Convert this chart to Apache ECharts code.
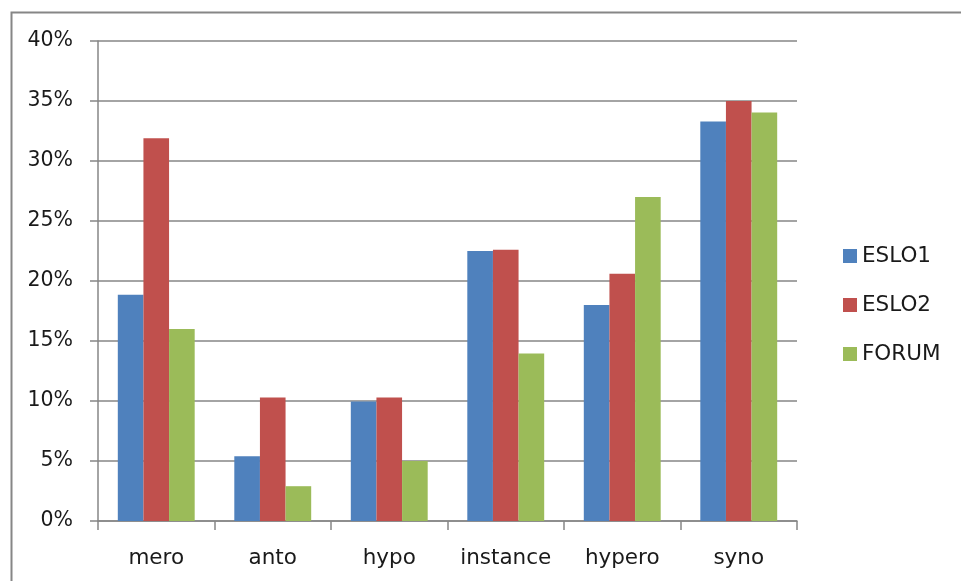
<!DOCTYPE html>
<html><head><meta charset="utf-8">
<script src="https://cdn.jsdelivr.net/npm/echarts@6/dist/echarts.min.js"></script>
<style>html,body{margin:0;padding:0;background:#fff}#c{width:961px;height:581px}</style>
</head><body><div id="c"></div>
<script>
const categories = ['mero','anto','hypo','instance','hypero','syno'];
const esl01 = [18.85, 5.4, 9.95, 22.5, 18.0, 33.3];
const esl02 = [31.9, 10.3, 10.3, 22.6, 20.6, 35.0];
const forum = [16.0, 2.9, 5.0, 13.95, 27.0, 34.05];
const seriesNames = ['ESLO1','ESLO2','FORUM'];
const colors = ['#4F81BD','#C0504D','#9BBB59'];

const chart = echarts.init(document.getElementById('c'));
const font = 'DejaVu Sans';
const gray = '#868686';
chart.setOption({
  animation: false,
  backgroundColor: '#fff',
  color: colors,
  textStyle: {fontFamily: font},
  graphic: [{type:'rect', left:9, top:10, shape:{width:1000, height:620}, style:{fill:'none', stroke:gray, lineWidth:2}, silent:true, z:-1}],
  grid: {left: 98, right: 164, top: 41, bottom: 60},
  legend: {
    orient: 'vertical', left: 838, top: 240, itemWidth: 14, itemHeight: 14, itemGap: 27,
    icon: 'rect',
    textStyle: {fontFamily: font, fontSize: 21.5, color: '#1a1a1a', lineHeight: 21}
  },
  xAxis: {
    type: 'category', data: categories,
    axisLine: {lineStyle: {color: gray, width: 1.5}},
    axisTick: {show: true, interval: 0, length: 9, lineStyle: {color: gray, width: 1.5}},
    axisLabel: {interval: 0, hideOverlap: false, fontFamily: font, fontSize: 21.5, color: '#1a1a1a', margin: 26}
  },
  yAxis: {
    type: 'value', min: 0, max: 40, interval: 5,
    axisLine: {show: true, lineStyle: {color: gray, width: 1.5}},
    axisTick: {show: true, length: 8, lineStyle: {color: gray, width: 1.5}},
    splitLine: {lineStyle: {color: gray, width: 1.5}},
    axisLabel: {formatter: '{value}%', fontFamily: font, fontSize: 20.5, color: '#1a1a1a', margin: 25}
  },
  series: [esl01, esl02, forum].map((d, i) => ({
    name: seriesNames[i], type: 'bar', data: d,
    barGap: '0%', barCategoryGap: '34%'
  }))
});
</script></body></html>
